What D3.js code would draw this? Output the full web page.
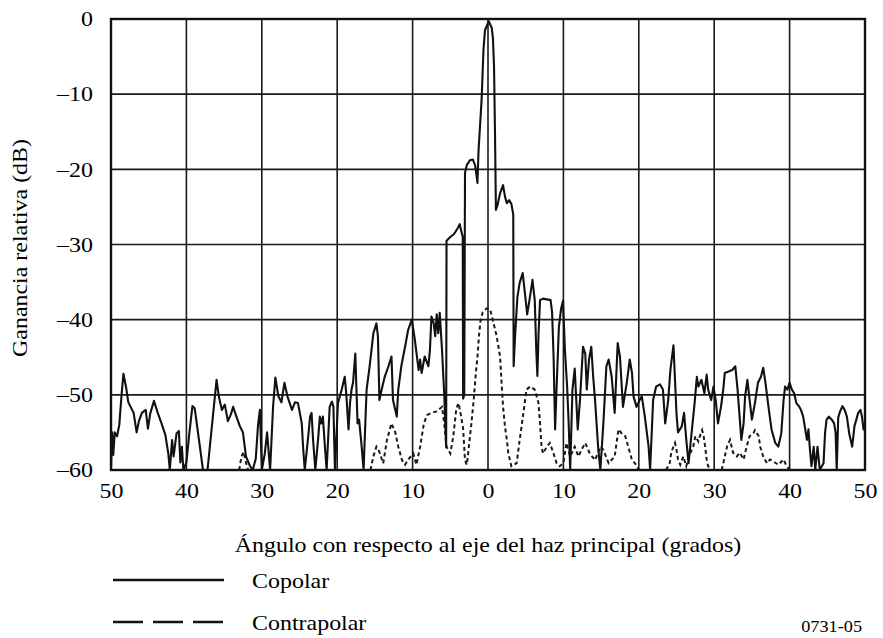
<!DOCTYPE html>
<html>
<head>
<meta charset="utf-8">
<script src="https://cdn.jsdelivr.net/npm/d3@7"></script>
<style>
  body { margin: 0; background: #fff; }
  svg { display: block; font-family: "Liberation Serif", "Times New Roman", serif; }
</style>
</head>
<body>
<svg id="chart" width="883" height="638"></svg>
<script>
// tick values
const xTicks = [-50, -40, -30, -20, -10, 0, 10, 20, 30, 40, 50];
const yTicks = [0, -10, -20, -30, -40, -50, -60];

// copolar pattern, [angle (deg), relative gain (dB)]
const copolar = [
  [-50.0,-60],[-49.85,-55],[-49.7,-58],[-49.5,-55],[-49.2,-55.5],[-48.9,-54],[-48.6,-50],[-48.35,-47.2],
  [-48.0,-49],[-47.7,-51],[-47.3,-51.8],[-47.0,-52.4],[-46.6,-55],[-46.3,-53.5],[-45.9,-52.4],[-45.4,-52],
  [-45.1,-54.5],[-44.8,-52.5],[-44.3,-50.8],[-43.8,-52.4],[-43.3,-53.8],[-42.8,-55.3],[-42.4,-57.8],[-42.2,-60],
  [-41.9,-56],[-41.7,-58.2],[-41.3,-55.1],[-41.0,-54.8],[-40.8,-59],[-40.6,-56.9],[-40.4,-60],[-40.0,-59],
  [-39.6,-55],[-39.2,-51.5],[-38.9,-51.8],[-38.6,-54],[-38.2,-57],[-37.8,-60],[-37.2,-60],[-36.8,-56],
  [-36.4,-52],[-36.0,-48],[-35.7,-50.2],[-35.3,-52],[-34.9,-51.3],[-34.5,-53.5],[-34.1,-52.6],[-33.8,-51.6],
  [-33.4,-52.8],[-32.9,-54.2],[-32.5,-55],[-32.1,-58.2],[-31.6,-59.4],[-31.2,-60],[-30.8,-58.5],[-30.5,-54],
  [-30.25,-52],[-30.0,-60],[-29.6,-57.8],[-29.3,-55],[-28.9,-60],[-28.5,-51.5],[-28.2,-47.7],[-27.8,-50.2],
  [-27.4,-51],[-27.0,-48.4],[-26.6,-50.2],[-26.0,-52],[-25.6,-51],[-25.2,-51.1],
  [-24.7,-53.8],[-24.5,-57.3],[-24.3,-60],[-23.8,-55.1],[-23.6,-52.9],[-23.4,-52.4],[-23.2,-56],[-22.9,-60],
  [-22.5,-55.5],[-22.3,-52.9],[-22.1,-53.8],[-21.9,-52.9],[-21.6,-57.3],[-21.4,-60],[-21.0,-51.6],[-20.7,-50.9],
  [-20.5,-51.6],[-20.3,-60],[-19.9,-51.1],[-19.4,-49.3],[-19.0,-47.6],[-18.8,-49.8],[-18.5,-54.6],[-18.3,-51.1],
  [-18.1,-49.3],[-17.9,-48.4],[-17.6,-44.5],[-17.3,-53.8],[-17.1,-53.3],[-16.8,-56.4],[-16.5,-60],[-16.3,-54.6],
  [-16.1,-49.3],[-15.7,-46.2],[-15.2,-41.8],[-14.8,-40.5],[-14.6,-42.2],[-14.4,-50.7],[-14.1,-49.3],[-13.7,-47.6],
  [-13.2,-46.2],[-12.8,-44.9],[-12.6,-50.7],[-12.1,-52.9],[-11.9,-49.3],[-11.5,-46.2],[-11.0,-43.6],[-10.6,-41.4],
  [-10.1,-40.0],[-9.7,-42.7],[-9.2,-46.7],[-9.0,-45.3],[-8.8,-47.1],[-8.4,-44.9],[-7.9,-46.2],[-7.7,-44.0],
  [-7.5,-39.6],[-7.2,-40.5],[-7.0,-42.2],[-6.8,-39.3],[-6.6,-41.8],[-6.4,-39.1],[-6.1,-44.0],[-5.8,-50],[-5.55,-57],
  [-5.5,-29.5],[-5.0,-29],[-4.5,-28.6],[-4.0,-27.8],[-3.75,-27.3],[-3.5,-28.4],[-3.35,-29],[-3.3,-50.5],
  [-3.15,-50],[-3.05,-20.5],[-2.8,-19.4],[-2.4,-18.8],[-2.0,-18.7],[-1.7,-19.5],[-1.5,-21],[-1.4,-21.8],
  [-1.25,-17.4],[-0.85,-10.8],[-0.6,-4.1],[-0.4,-1.5],[0.1,-0.3],[0.5,-1.2],[0.65,-2.5],[0.8,-6.3],
  [0.93,-15.2],[1.05,-25.4],[1.25,-24.8],[1.6,-23.2],[2.0,-22.1],[2.25,-23.6],[2.5,-24.5],[2.8,-24.1],
  [3.1,-24.6],[3.35,-26],[3.4,-46.2],
  [3.6,-42],[3.9,-37],[4.2,-35.1],[4.6,-33.8],[4.9,-36.5],[5.2,-39.3],[5.5,-37.4],[5.9,-34.7],[6.2,-37.4],
  [6.4,-44],[6.55,-47.5],[6.7,-42],[6.9,-37.4],[7.3,-37.2],[7.8,-37.3],[8.3,-37.4],[8.5,-39],[8.7,-45],
  [8.9,-54.6],[9.1,-49],[9.4,-41],[9.7,-38.5],[9.95,-37.5],[10.2,-44],[10.5,-49],[10.7,-53.8],[10.9,-60],
  [11.2,-49.3],[11.5,-46.5],[11.9,-54.6],[12.2,-50.7],[12.6,-43.6],[12.9,-44.5],[13.1,-49.3],[13.4,-45.3],
  [13.7,-43.6],[13.95,-47.6],[14.2,-50.7],[14.6,-56.9],[14.9,-60],[15.3,-53.8],[15.7,-46.2],[16.0,-45.3],
  [16.4,-47.6],[16.8,-52.4],[17.2,-43.1],[17.5,-44.9],[17.9,-51.6],[18.4,-48.4],[18.8,-45.3],[19.1,-47.1],
  [19.3,-50.2],[19.7,-51.6],[20.1,-50.7],[20.4,-50.2],[20.8,-52.9],[21.3,-56.9],[21.5,-60],[21.9,-50.7],
  [22.3,-48.9],[22.8,-48.6],[23.2,-49.3],[23.5,-53.8],[23.9,-50.7],[24.2,-46.6],[24.6,-43.4],[24.8,-48],
  [25.0,-52.5],[25.2,-55],[25.7,-54.2],[26.0,-52.4],[26.3,-56],[26.6,-59.1],[27.0,-55.1],[27.4,-51.1],
  [27.7,-47.6],[27.9,-48.9],[28.3,-48.0],[28.7,-49.8],[29.0,-47.3],[29.2,-49.3],[29.6,-50.7],[29.9,-48.9],
  [30.2,-50.7],[30.5,-53.8],[30.9,-51.6],[31.2,-49.3],[31.4,-47.1],[31.9,-46.9],[32.4,-46.7],[32.8,-46.2],
  [33.1,-49.3],[33.4,-53.3],[33.6,-56],[33.9,-53.8],[34.1,-50.2],[34.4,-48],[34.7,-50.7],[35.0,-53.3],
  [35.4,-51.1],[35.8,-48.4],[36.2,-47.6],[36.5,-46.4],[36.8,-48.4],[37.2,-51.6],[37.6,-54.6],[38.1,-56.4],
  [38.5,-56.9],[38.9,-55.1],[39.2,-50.7],[39.4,-48.9],[39.7,-49.3],[40.0,-48.4],[40.3,-49.3],[40.6,-49.8],
  [40.9,-51.1],[41.3,-51.6],[41.5,-52],[41.8,-52.9],[42.3,-56],[42.5,-54.6],[42.7,-57.3],[42.9,-59.5],
  [43.2,-56.9],[43.4,-60],[43.7,-56.9],[44.0,-60],[44.5,-59.1],[44.7,-55.1],[44.9,-53.3],[45.2,-52.9],
  [45.6,-53.3],[45.9,-53.8],[46.1,-55],[46.25,-60],[46.45,-53],[46.7,-52.2],[47.0,-51.5],[47.3,-52],
  [47.6,-52.9],[47.9,-55.1],[48.3,-56.9],[48.6,-54.2],[49.1,-52.4],[49.4,-52],[49.6,-52.9],[49.8,-54.6],
  [50.0,-53.8]
];

// contrapolar pattern, null = gap in the trace
const contrapolar = [
  [-33.0,-60],[-32.7,-58.2],[-32.4,-57.6],[-32.1,-59],[-31.8,-60],[-31.7,null],
  [-15.6,-60],[-15.2,-58.2],[-14.8,-56.9],[-14.4,-57.6],[-13.9,-59.1],[-13.4,-56],[-12.8,-53.8],[-12.3,-55],
  [-11.9,-56.9],[-11.4,-58.7],[-11.0,-59.3],[-10.5,-58.5],[-9.9,-57.8],[-9.5,-59.3],[-9.0,-56.9],[-8.5,-53.8],
  [-8.1,-52.7],[-7.5,-52.4],[-6.8,-52.2],[-6.1,-51.6],[-5.8,-53.8],[-5.5,-56.9],[-5.0,-57.8],[-4.6,-55.5],
  [-4.2,-51.8],[-3.9,-51.1],[-3.6,-52.7],[-3.3,-54.5],[-3.05,-58.7],[-2.8,-59.3],[-2.5,-56.5],[-2.2,-53.8],
  [-1.9,-50.7],[-1.6,-47],[-1.4,-45],[-1.2,-42.2],[-1.0,-40.2],[-0.7,-39],[-0.2,-38.5],[0.3,-38.7],
  [0.7,-40.3],[1.15,-42.2],[1.6,-44.9],[1.8,-48.4],[2.0,-51.6],[2.25,-54.2],[2.5,-56],[2.7,-57.8],
  [3.1,-59.5],[3.8,-59.1],[4.2,-56],[4.7,-52.4],[5.1,-49.3],[5.6,-48.9],[6.2,-49.3],[6.7,-51.1],
  [6.9,-53.8],[7.1,-56.9],[7.3,-57.8],[7.8,-56.9],[8.2,-56.4],[8.7,-57.8],[9.1,-59.1],[9.5,-59.5],
  [10.0,-59.1],[10.4,-56.4],[10.9,-58.2],[11.5,-56.9],[12.0,-58.2],[12.4,-57.3],[12.9,-56.4],[13.5,-57.8],
  [14.2,-58.7],[14.9,-56.9],[15.3,-57.3],[16.0,-59.1],[16.8,-58.2],[17.3,-54.6],[17.7,-55.1],[18.2,-55.5],
  [18.6,-56.9],[19.1,-58.7],[19.5,-59.1],[20.0,-60],[20.1,null],
  [23.6,-60],[23.9,-59.5],[24.1,-59.1],[24.3,-57.7],[24.6,-56.9],[24.8,-56.4],[25.0,-57.3],[25.2,-58.6],
  [25.5,-59.3],[25.9,-58.2],[26.3,-59.5],[26.7,-58],[27.2,-57],[27.5,-55.5],[27.9,-56.2],[28.1,-55.5],
  [28.4,-54.7],[28.6,-55.5],[28.8,-56.9],[29.0,-58.6],[29.2,-59.5],[29.6,-60],[29.7,null],
  [31.0,-60],[31.2,-59.1],[31.7,-56.9],[32.1,-56],[32.5,-57.7],[33.0,-58.2],[33.4,-57.7],[33.9,-58.6],
  [34.3,-56.9],[34.7,-55.5],[35.2,-55.1],[35.4,-54.7],[35.9,-55.5],[36.1,-56.9],[36.5,-58.2],[37.0,-59.1],
  [37.4,-58.6],[37.9,-58.9],[38.5,-59.3],[39.2,-58.6],[39.6,-59.5],[40.1,-60]
];

const svg = d3.select("#chart");
const plotLeft = 111, plotRight = 865, plotTop = 19, plotBottom = 470;

const x = d3.scaleLinear().domain([-50, 50]).range([plotLeft, plotRight]);
const y = d3.scaleLinear().domain([-60, 0]).range([plotBottom, plotTop]);

// the scanned figure's lettering is a bit wider than plain Times
function widen(sel) {
  sel.each(function() {
    const w = this.getComputedTextLength();
    d3.select(this).attr("textLength", w * 1.14).attr("lengthAdjust", "spacingAndGlyphs");
  });
}

// grid
const grid = svg.append("g").attr("stroke", "#1a1a1a").attr("stroke-width", 1.6);
grid.selectAll(".vg").data(xTicks).enter().append("line")
    .attr("x1", d => x(d)).attr("x2", d => x(d))
    .attr("y1", plotTop).attr("y2", plotBottom);
grid.selectAll(".hg").data(yTicks).enter().append("line")
    .attr("x1", plotLeft).attr("x2", plotRight)
    .attr("y1", d => y(d)).attr("y2", d => y(d));

svg.append("rect")
    .attr("x", plotLeft).attr("y", plotTop)
    .attr("width", plotRight - plotLeft).attr("height", plotBottom - plotTop)
    .attr("fill", "none").attr("stroke", "#111").attr("stroke-width", 2.4);

svg.append("clipPath").attr("id", "plot")
  .append("rect").attr("x", plotLeft).attr("y", plotTop - 2)
    .attr("width", plotRight - plotLeft).attr("height", plotBottom - plotTop + 3);

const line = d3.line()
    .defined(d => d[1] !== null)
    .x(d => x(d[0]))
    .y(d => y(d[1]));

svg.append("path")
    .datum(contrapolar)
    .attr("clip-path", "url(#plot)")
    .attr("fill", "none")
    .attr("stroke", "#1a1a1a")
    .attr("stroke-width", 2)
    .attr("stroke-dasharray", "4,3")
    .attr("d", line);

svg.append("path")
    .datum(copolar)
    .attr("clip-path", "url(#plot)")
    .attr("fill", "none")
    .attr("stroke", "#111")
    .attr("stroke-width", 2.1)
    .attr("stroke-linejoin", "round")
    .attr("d", line);

// axes
const yAxis = svg.append("g")
    .attr("transform", "translate(" + plotLeft + ",0)")
    .call(d3.axisLeft(y).tickValues(yTicks).tickSize(0).tickPadding(18)
      .tickFormat(d => d === 0 ? "0" : "\u2013" + Math.abs(d)));
const xAxis = svg.append("g")
    .attr("transform", "translate(0," + plotBottom + ")")
    .call(d3.axisBottom(x).tickValues(xTicks).tickSize(0).tickPadding(13)
      .tickFormat(d => Math.abs(d)));
[yAxis, xAxis].forEach(function(a) {
  a.select(".domain").remove();
  a.attr("font-family", null);
  a.selectAll("text")
      .attr("font-size", 21)
      .attr("fill", "#000")
      .call(widen);
});

svg.append("text")
    .attr("transform", "translate(27,248) rotate(-90)")
    .attr("text-anchor", "middle")
    .attr("font-size", 21)
    .text("Ganancia relativa (dB)")
    .call(widen);

svg.append("text")
    .attr("x", 488).attr("y", 552)
    .attr("text-anchor", "middle")
    .attr("font-size", 21)
    .text("Ángulo con respecto al eje del haz principal (grados)")
    .call(widen);

// legend
const legend = [
  {label: "Copolar", dash: null, y: 580},
  {label: "Contrapolar", dash: "30,10", y: 622}
];
const lg = svg.selectAll(".legend").data(legend).enter().append("g");
lg.append("line")
    .attr("x1", 113).attr("x2", 224)
    .attr("y1", d => d.y).attr("y2", d => d.y)
    .attr("stroke", "#111").attr("stroke-width", 2.4)
    .attr("stroke-dasharray", d => d.dash);
lg.append("text")
    .attr("x", 252).attr("y", d => d.y + 8)
    .attr("font-size", 21)
    .text(d => d.label)
    .call(widen);

svg.append("text")
    .attr("x", 862).attr("y", 632)
    .attr("text-anchor", "end")
    .attr("font-size", 16)
    .text("0731-05")
    .call(widen);
</script>
</body>
</html>
